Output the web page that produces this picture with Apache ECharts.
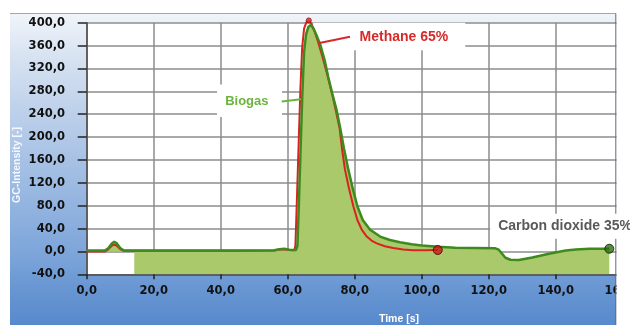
<!DOCTYPE html>
<html>
<head>
<meta charset="utf-8">
<script src="https://cdn.jsdelivr.net/npm/echarts@6/dist/echarts.min.js"></script>
<style>
  html, body { margin: 0; padding: 0; background: #fff; }
  #wrap { position: relative; width: 630px; height: 325px; overflow: hidden; background: #fff; }
  #panel {
    position: absolute; left: 10px; top: 13px; width: 606px; height: 312px;
    border-top: 1px solid #9ba8b9;
    background: linear-gradient(to bottom, #f0f4fa 0%, #d5e1f1 15%, #abc4e6 44%, #7ea6da 76%, #6795d2 89%, #5789cd 100%);
  }
  #chart { position: absolute; left: 0; top: 0; width: 630px; height: 325px; }
</style>
</head>
<body>
<div id="wrap"><div id="panel"></div><div id="chart"></div></div>
<script>
// Detector response over retention time (s)
const biogasTime  = [0, 5.5, 6.5, 7.5, 8.2, 9, 10, 11, 14.2, 20, 30, 40, 50, 56, 57.5, 59, 60.5, 61.5, 62.5,
  62.9, 63.4, 63.9, 64.4, 64.9, 65.5, 66.2, 66.9, 67.7, 68.6, 69.7, 71, 72.1, 73.3, 74.6, 75.6, 76.8, 78.1,
  79.5, 80.8, 82.4, 84.6, 87.6, 90.5, 93.5, 97, 100, 105, 110, 116, 122, 123, 124, 125, 126.5, 129, 133,
  138, 143, 146, 150, 156];
const biogasValue = [1.5, 1.5, 6, 14, 17, 14, 6, 2, 1.5, 1.5, 1.5, 1.5, 1.5, 2, 4, 4.5, 3, 2.5, 2.5,
  10, 95, 190, 280, 350, 380, 393, 396, 390, 378, 362, 335, 305, 276, 247, 218, 180, 143,
  108, 79, 55, 38, 26, 20, 16, 12.5, 10.5, 8, 6.5, 6, 5.5, 3, -4, -11, -14.5, -15, -10.5,
  -4, 1.5, 3.5, 4.5, 4.7];

const methaneTime  = [0, 5.5, 6.5, 7.5, 8.2, 9, 10, 11, 20, 40, 56, 57.5, 59, 60.5, 62, 62.3, 62.8, 63.3,
  63.8, 64.3, 64.9, 65.6, 66.3, 67.1, 68, 69.1, 70.5, 72, 73.4, 74.6, 75.5, 76.2, 77.1, 78.3, 79.6, 80.8,
  82.1, 83.6, 85, 86.6, 89, 91.5, 94.5, 97.4, 101, 104.8];
const methaneValue = [0, 0, 4, 10, 12, 10, 4, 1, 1, 1, 1.5, 3.5, 4, 2.5, 2, 10, 100, 195,
  285, 355, 390, 401, 404, 398, 385, 366, 338, 305, 272, 240, 215, 180, 143, 110, 79, 55,
  38, 26, 19, 14, 9, 6, 3.5, 2, 2, 2.5];

const xTicks = [0, 20, 40, 60, 80, 100, 120, 140, 160];
const yTicks = [-40, 0, 40, 80, 120, 160, 200, 240, 280, 320, 360, 400];

// time from which the biogas area is shaded down to the axis floor
const bandStart = 14.2;

const fmt = v => v.toFixed(1).replace('.', ',');
const pair = (ts, vs) => ts.map((t, i) => [t, vs[i]]);
const biogas = pair(biogasTime, biogasValue);
const methane = pair(methaneTime, methaneValue);
const biogasBand = biogas.filter(p => p[0] >= bandStart);
const biogasLead = biogas.filter(p => p[0] <= bandStart);
const methanePeak = methane.reduce((a, b) => (b[1] > a[1] ? b : a));
const methaneEnd = methane[methane.length - 1];
const biogasEnd = biogas[biogas.length - 1];

const RED = '#d8231e';
const GREEN_LINE = '#3f8a1f';
const GREEN_FILL = '#a9c96b';
const LABEL_GREEN = '#6cb33f';
const LABEL_RED = '#d62a2a';

const axisFont = { color: '#111', fontFamily: 'DejaVu Sans', fontWeight: 'bold', fontSize: 11.5 };

const chart = echarts.init(document.getElementById('chart'), null, { renderer: 'canvas' });
chart.setOption({
  animation: false,
  backgroundColor: 'transparent',
  grid: {
    left: 86.7, right: 7.3, top: 22.7, bottom: 50.7, containLabel: false, outerBoundsMode: 'none',
    show: true, backgroundColor: '#fff', borderWidth: 0
  },
  xAxis: {
    type: 'value', min: xTicks[0], max: xTicks[xTicks.length - 1], interval: xTicks[1] - xTicks[0],
    axisLine: { show: true, onZero: false, lineStyle: { color: '#4a4a4a', width: 1.5 } },
    axisTick: { show: true, length: 5, lineStyle: { color: '#222', width: 1.5 } },
    axisLabel: Object.assign({ margin: 11, formatter: fmt, hideOverlap: false }, axisFont),
    splitLine: { show: true, lineStyle: { color: '#8c8c8c', width: 1.5 } }
  },
  yAxis: {
    type: 'value', min: yTicks[0], max: yTicks[yTicks.length - 1], interval: yTicks[1] - yTicks[0],
    axisLine: { show: true, onZero: false, lineStyle: { color: '#4a4a4a', width: 1.5 } },
    axisTick: { show: true, length: 9, lineStyle: { color: '#222', width: 1.5 } },
    axisLabel: Object.assign({ margin: 21.7, formatter: fmt }, axisFont),
    splitLine: { show: true, lineStyle: { color: '#8c8c8c', width: 1.5 } }
  },
  graphic: [
    { type: 'rect', z: 10, silent: true, shape: { x: 616.5, y: 0, width: 20, height: 325 }, style: { fill: '#fff' } },
    { type: 'line', z: 11, silent: true, shape: { x1: 615.8, y1: 13.5, x2: 615.8, y2: 325 }, style: { stroke: '#5e6b7c', lineWidth: 1 } },
    { type: 'text', z: 5, silent: true, x: 17, y: 165, rotation: Math.PI / 2,
      style: { text: 'GC-Intensity [-]', fill: '#f4f7fc', font: 'bold 10.5px "Liberation Sans"', align: 'center', verticalAlign: 'middle' } },
    { type: 'text', z: 5, silent: true, x: 399, y: 319,
      style: { text: 'Time [s]', fill: '#ffffff', font: 'bold 10.5px "Liberation Sans"', align: 'center', verticalAlign: 'middle' } }
  ],
  series: [
    { // white boxes behind the Methane and Biogas captions
      type: 'line', data: [], z: 1, silent: true, clip: false,
      markArea: {
        silent: true, z: 1, itemStyle: { color: '#fff' },
        data: [
          [{ coord: [67.6, 352] }, { coord: [113, 402] }],
          [{ coord: [38.9, 235] }, { coord: [58.3, 292] }]
        ]
      }
    },
    {
      name: 'Biogas area', type: 'line', data: biogasBand, symbol: 'none', silent: true, z: 2,
      lineStyle: { width: 0 }, areaStyle: { color: GREEN_FILL, opacity: 1, origin: 'start' }
    },
    {
      name: 'Biogas lead', type: 'line', data: biogasLead, symbol: 'none', silent: true, z: 2,
      lineStyle: { width: 0 }, areaStyle: { color: GREEN_FILL, opacity: 1 }
    },
    {
      name: 'Methane', type: 'line', data: methane, symbol: 'none', clip: false, z: 3,
      lineStyle: { color: RED, width: 2 }
    },
    {
      name: 'Biogas', type: 'line', data: biogas, symbol: 'none', clip: false, z: 4,
      lineStyle: { color: GREEN_LINE, width: 2.5 }
    },
    {
      type: 'scatter', z: 5, clip: false, silent: true,
      data: [
        { value: methanePeak, symbolSize: 5, itemStyle: { color: '#e03a30', borderColor: '#8a0a0a', borderWidth: 1 } },
        { value: methaneEnd, symbolSize: 9, itemStyle: { color: '#c81818', borderColor: '#4a0000', borderWidth: 1 } },
        { value: biogasEnd, symbolSize: 9, itemStyle: { color: '#2e6e12', borderColor: '#0a2200', borderWidth: 1 } }
      ]
    },
    { // captions and leader lines
      type: 'line', data: [], z: 30, silent: true, clip: false,
      markLine: {
        silent: true, z: 30, symbol: ['none', 'none'], label: { show: false },
        data: [
          [{ coord: [69.1, 364], lineStyle: { color: LABEL_RED, width: 2, type: 'solid' } }, { coord: [78.6, 375.5] }],
          [{ coord: [58.2, 262], lineStyle: { color: LABEL_GREEN, width: 2, type: 'solid' } }, { coord: [64.0, 266] }]
        ]
      },
      markPoint: {
        silent: true, z: 30, symbol: 'circle', symbolSize: 0,
        itemStyle: { color: 'transparent' },
        data: [
          { coord: [94.7, 375.5], label: { show: true, position: 'inside', formatter: 'Methane 65%',
              color: LABEL_RED, fontFamily: 'Liberation Sans', fontWeight: 'bold', fontSize: 14 } },
          { coord: [47.8, 262], label: { show: true, position: 'inside', formatter: 'Biogas',
              color: LABEL_GREEN, fontFamily: 'Liberation Sans', fontWeight: 'bold', fontSize: 13 } },
          { coord: [142.2, 44], label: { show: true, position: 'inside', formatter: 'Carbon dioxide 35%',
              color: '#595959', fontFamily: 'Liberation Sans', fontWeight: 'bold', fontSize: 14,
              backgroundColor: '#fff', padding: [8, 4, 3, 8] } }
        ]
      }
    }
  ]
});
</script>
</body>
</html>
